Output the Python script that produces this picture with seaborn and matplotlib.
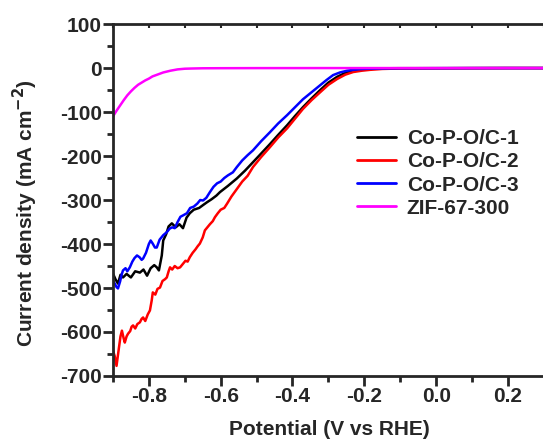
import numpy as np
import seaborn as sns
import matplotlib.pyplot as plt
from matplotlib.ticker import MultipleLocator

sns.set_style('ticks')
plt.rcParams['font.family'] = ['Liberation Sans', 'DejaVu Sans']
plt.rcParams['font.weight'] = 'bold'
plt.rcParams['mathtext.default'] = 'bf'

# Co-P-O/C-1 (black)
e1 = [-0.900, -0.893, -0.886, -0.879, -0.872, -0.862, -0.850, -0.838, -0.825, -0.815,
      -0.805, -0.795, -0.785, -0.778, -0.772, -0.764, -0.760, -0.752, -0.745, -0.736,
      -0.725, -0.715, -0.705, -0.695, -0.686, -0.675, -0.660, -0.650, -0.638, -0.625,
      -0.612, -0.602, -0.580, -0.555, -0.532, -0.510, -0.487, -0.463, -0.440, -0.415,
      -0.393, -0.371, -0.347, -0.323, -0.300, -0.276, -0.253, -0.231, -0.207, -0.184,
      -0.150, -0.100, 0.000, 0.100, 0.200, 0.300]
j1 = [-467, -480, -490, -470, -476, -468, -476, -462, -465, -458,
      -472, -455, -448, -453, -460, -426, -392, -378, -360, -353,
      -362, -355, -364, -340, -330, -322, -318, -312, -305, -298,
      -290, -282, -268, -251, -233, -214, -194, -173, -152, -130,
      -109, -89, -69, -50, -33, -20, -11, -5, -2, -1,
      -0.5, -0.3, -0.2, -0.1, 0, 0]

# Co-P-O/C-2 (red)
e2 = [-0.900, -0.895, -0.890, -0.884, -0.879, -0.875, -0.870, -0.867, -0.862, -0.858,
      -0.852, -0.848, -0.844, -0.838, -0.832, -0.825, -0.820, -0.816, -0.810, -0.803,
      -0.797, -0.792, -0.789, -0.782, -0.776, -0.769, -0.762, -0.755, -0.750, -0.745,
      -0.741, -0.735, -0.728, -0.720, -0.713, -0.705, -0.698, -0.692, -0.686, -0.678,
      -0.670, -0.664, -0.658, -0.650, -0.644, -0.637, -0.630, -0.622, -0.616, -0.608,
      -0.600, -0.590, -0.582, -0.570, -0.555, -0.540, -0.525, -0.510, -0.487, -0.463,
      -0.440, -0.415, -0.393, -0.371, -0.347, -0.323, -0.300, -0.276, -0.253, -0.231,
      -0.207, -0.184, -0.150, -0.100, 0.000, 0.100, 0.200, 0.300]
j2 = [-642, -655, -677, -640, -610, -597, -615, -624, -610, -604,
      -598, -588, -585, -592, -582, -578, -570, -567, -575, -560,
      -551, -528, -510, -515, -502, -499, -484, -480, -476, -462,
      -453, -458, -450, -455, -453, -445, -438, -440, -430, -420,
      -412, -405, -399, -385, -369, -362, -355, -348, -339, -330,
      -322, -318, -308, -292, -275, -258, -245, -225, -202, -180,
      -158, -137, -115, -93, -73, -55, -38, -25, -15, -9,
      -6, -4, -2, -1, -0.5, -0.2, 0, 0]

# Co-P-O/C-3 (blue)
e3 = [-0.900, -0.895, -0.890, -0.886, -0.880, -0.876, -0.872, -0.865, -0.860, -0.853,
      -0.846, -0.840, -0.833, -0.826, -0.820, -0.816, -0.808, -0.800, -0.795, -0.790,
      -0.783, -0.778, -0.770, -0.760, -0.750, -0.742, -0.735, -0.728, -0.720, -0.712,
      -0.705, -0.694, -0.685, -0.675, -0.665, -0.657, -0.649, -0.640, -0.630, -0.620,
      -0.610, -0.600, -0.590, -0.580, -0.566, -0.555, -0.540, -0.525, -0.510, -0.487,
      -0.463, -0.440, -0.415, -0.393, -0.371, -0.347, -0.323, -0.305, -0.287, -0.268,
      -0.248, -0.230, -0.212, -0.190, -0.150, -0.100, 0.000, 0.100, 0.200, 0.300]
j3 = [-483, -490, -498, -501, -485, -470, -460, -455, -462, -453,
      -440, -432, -426, -430, -436, -433, -420, -400, -392, -398,
      -408, -408, -390, -380, -373, -365, -362, -364, -350, -338,
      -335, -330, -318, -315, -308, -300, -301, -295, -282, -270,
      -262, -258, -250, -244, -237, -225, -210, -198, -187, -166,
      -146, -126, -107, -89, -71, -55, -39, -27, -16, -10,
      -6, -4, -2.5, -1.5, -1, -0.5, -0.3, -0.1, 0, 0]

# ZIF-67-300 (magenta)
e4 = [-0.900, -0.890, -0.880, -0.870, -0.860, -0.850, -0.840, -0.830, -0.820, -0.810,
      -0.800, -0.790, -0.780, -0.770, -0.760, -0.750, -0.740, -0.730, -0.720, -0.700,
      -0.680, -0.650, -0.600, -0.500, -0.300, 0.000, 0.300]
j4 = [-110, -97, -85, -73, -62, -53, -45, -38, -33, -28,
      -24, -19, -16, -13, -10, -8, -6, -4.5, -3, -1.5,
      -1, -0.5, -0.3, -0.1, 0, 0, 0]

labels = ['Co-P-O/C-1', 'Co-P-O/C-2', 'Co-P-O/C-3', 'ZIF-67-300']
colors = ['black', 'red', 'blue', 'magenta']
xticks = [-0.8, -0.6, -0.4, -0.2, 0.0, 0.2]
yticks = list(range(-700, 101, 100))

fig = plt.figure(figsize=(5.43, 4.46), dpi=100)
# right spine sits just past the image edge, as in the reference
ax = fig.add_axes([0.208, 0.157, 0.7956, 0.789])

for e, j, lab, c in zip([e1, e2, e3, e4], [j1, j2, j3, j4], labels, colors):
    sns.lineplot(x=e, y=j, ax=ax, color=c, label=lab, linewidth=1.8,
                 sort=False, estimator=None, errorbar=None)

ax.set_xlim(-0.9, 0.303)
ax.set_ylim(-700, 100)
ax.xaxis.set_minor_locator(MultipleLocator(0.1))
ax.yaxis.set_minor_locator(MultipleLocator(50))
ax.set_xticks(xticks)
ax.set_xticklabels(['%.1f' % v for v in xticks])
ax.set_yticks(yticks)
ax.set_yticklabels([str(v) for v in yticks])

for s in ax.spines.values():
    s.set_linewidth(2)
ax.tick_params(axis='both', which='major', length=7, width=2, labelsize=15, pad=1)
ax.tick_params(axis='both', which='minor', length=4, width=2)

# small inward ticks along the top spine
top = ax.secondary_xaxis('top')
top.set_xticks(xticks)
top.xaxis.set_minor_locator(MultipleLocator(0.1))
top.tick_params(which='both', direction='in', length=3, width=1.5, labeltop=False)
top.spines['top'].set_visible(False)

ax.set_xlabel('Potential (V vs RHE)', fontsize=15, fontweight='bold', labelpad=10)
ax.set_ylabel('Current density (mA cm$^{\\mathbf{-2}}$)', fontsize=15,
              fontweight='bold')
ax.yaxis.set_label_coords(-0.169, 0.463)

ax.legend(loc='upper left', bbox_to_anchor=(0.545, 0.725), frameon=False,
          fontsize=15, handlelength=1.9, handletextpad=0.5, labelspacing=0.2,
          borderaxespad=0)
for line in ax.get_legend().get_lines():
    line.set_linewidth(2)

fig.savefig('out.png', dpi=100)
